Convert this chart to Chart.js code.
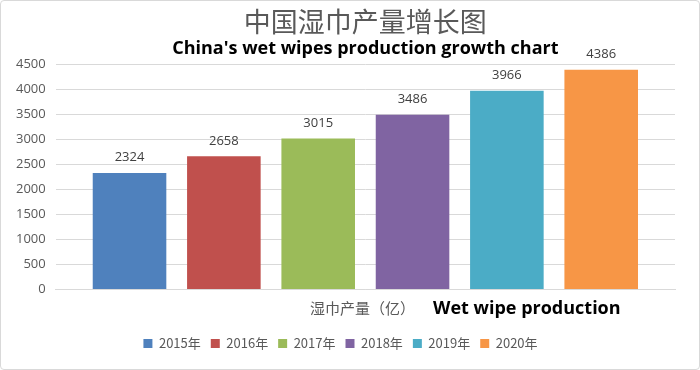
<!DOCTYPE html>
<html>
<head>
<meta charset="utf-8">
<script src="https://cdn.jsdelivr.net/npm/chart.js@4/dist/chart.umd.min.js"></script>
<style>
  html, body { margin: 0; padding: 0; background: #fff; }
  #wrap { position: relative; width: 698px; height: 368px; border: 1px solid #d9d9d9; border-radius: 4px; }
</style>
</head>
<body>
<div id="wrap"><canvas id="c" width="698" height="368"></canvas></div>
<script>
const years = ['2015年', '2016年', '2017年', '2018年', '2019年', '2020年'];
const production = [2324, 2658, 3015, 3486, 3966, 4386];
const colors = ['#4f81bd', '#c0504d', '#9bbb59', '#8064a2', '#4bacc6', '#f79646'];

const cjk = '"Noto Sans CJK SC", "Open Sans", sans-serif';

// value labels above bars + the two-part x axis title
const extraText = {
  id: 'extraText',
  afterDatasetsDraw(chart) {
    const ctx = chart.ctx;
    ctx.save();
    ctx.font = '13px "Open Sans", sans-serif';
    ctx.fillStyle = '#404040';
    ctx.textAlign = 'center';
    ctx.textBaseline = 'bottom';
    chart.data.datasets.forEach((ds, i) => {
      const bar = chart.getDatasetMeta(i).data[0];
      ctx.fillText(ds.data[0], bar.x, bar.y - 9);
    });

    const area = chart.chartArea;
    const y = area.bottom + 19;
    ctx.textBaseline = 'middle';
    ctx.textAlign = 'left';
    ctx.font = '15px ' + cjk;
    ctx.fillStyle = '#595959';
    const part1 = '湿巾产量（亿）';
    const x0 = 309;
    ctx.fillText(part1, x0, y);
    ctx.font = 'bold 18px "Open Sans", sans-serif';
    ctx.fillStyle = '#000';
    ctx.fillText('Wet wipe production', 432, y);
    ctx.restore();
  }
};

new Chart(document.getElementById('c'), {
  type: 'bar',
  data: {
    labels: [''],
    datasets: years.map((y, i) => ({
      label: y,
      data: [production[i]],
      backgroundColor: colors[i],
      borderWidth: 0
    }))
  },
  options: {
    responsive: false,
    animation: false,
    categoryPercentage: 0.914,
    barPercentage: 0.78,
    layout: { padding: { left: 5, right: 24, top: 0, bottom: 9 } },
    plugins: {
      title: {
        display: true,
        fullSize: false,
        text: '中国湿巾产量增长图',
        color: '#595959',
        font: { family: cjk, size: 27, weight: 'normal' },
        padding: { top: 5, bottom: 0 }
      },
      subtitle: {
        display: true,
        fullSize: false,
        text: "China's wet wipes production growth chart",
        color: '#000',
        font: { family: '"Open Sans", sans-serif', size: 18, weight: 'bold' },
        padding: { top: 0, bottom: 4 }
      },
      legend: {
        position: 'bottom',
        labels: {
          boxWidth: 9,
          boxHeight: 9,
          color: '#595959',
          font: { family: cjk, size: 13 },
          padding: 10
        }
      },
      tooltip: { enabled: false }
    },
    scales: {
      x: {
        grid: { display: false, drawTicks: false },
        border: { color: '#d9d9d9' },
        ticks: { display: false },
        title: {
          display: true,
          text: 'Wet wipe production',
          color: 'rgba(0,0,0,0)',
          font: { size: 17, weight: 'bold' },
          padding: { top: 8, bottom: 9 }
        }
      },
      y: {
        min: 0,
        max: 4500,
        ticks: {
          stepSize: 500,
          color: '#595959',
          font: { family: '"Open Sans", sans-serif', size: 13 },
          padding: 10,
          callback: v => String(v)
        },
        grid: { color: '#d9d9d9', drawTicks: false },
        border: { display: false }
      }
    }
  },
  plugins: [extraText]
});
</script>
</body>
</html>
